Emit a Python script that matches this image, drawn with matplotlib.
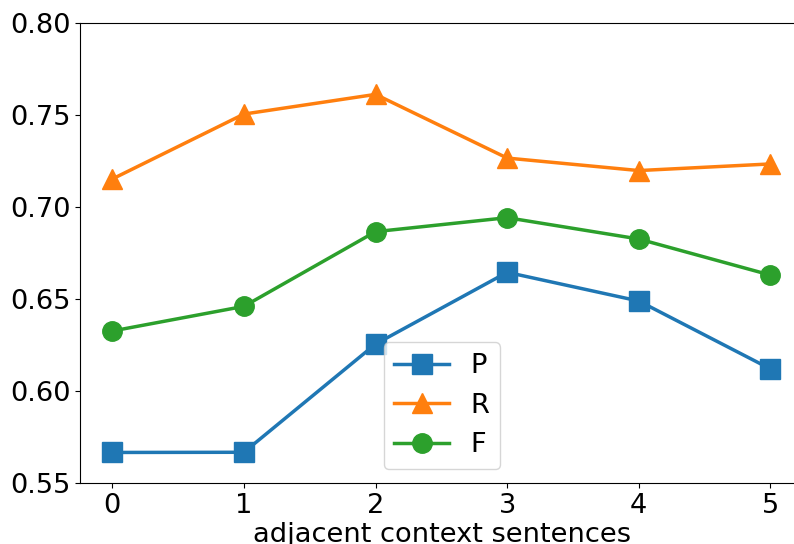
import matplotlib
matplotlib.use("Agg")
import matplotlib.pyplot as plt

x = [0, 1, 2, 3, 4, 5]
P = [0.5666, 0.5667, 0.6255, 0.6645, 0.6489, 0.6120]
R = [0.7152, 0.7505, 0.7612, 0.7266, 0.7198, 0.7234]
F = [0.6326, 0.6460, 0.6866, 0.6942, 0.6826, 0.6630]

plt.rcParams['font.size'] = 19.6
fig = plt.figure(figsize=(7.94, 5.44), dpi=100)
ax = fig.add_axes([80/794, 61/544, 724/794, 460/544])
lw = 2.5
ms = 14
ax.plot(x, P, marker='s', color='#1f77b4', lw=lw, ms=ms, label='P')
ax.plot(x, R, marker='^', color='#ff7f0e', lw=lw, ms=ms, label='R')
ax.plot(x, F, marker='o', color='#2ca02c', lw=lw, ms=ms, label='F')
ax.set_xlim(-0.245, 5.255)
ax.set_ylim(0.55, 0.80)
ax.set_xticks(x)
ax.set_yticks([0.55, 0.60, 0.65, 0.70, 0.75, 0.80])
ax.set_yticklabels(['0.55', '0.60', '0.65', '0.70', '0.75', '0.80'])
ax.set_xlabel('adjacent context sentences', labelpad=2)
ax.legend(loc='lower center')
fig.savefig('out.png', dpi=100)
